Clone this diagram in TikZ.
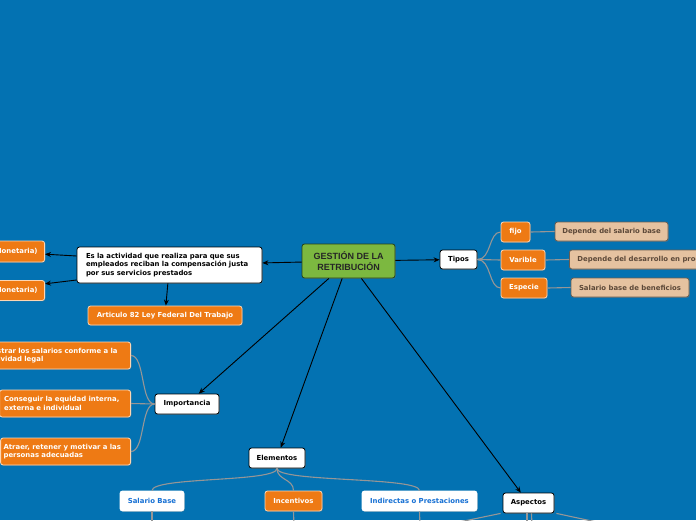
\documentclass[tikz,border=0pt]{standalone}
\usepackage{fontspec}
\setmainfont{DejaVu Sans}
\newfontfamily\titlefont{Liberation Sans}
\usetikzlibrary{arrows.meta,shadows}
\definecolor{mapblue}{RGB}{3,114,178}
\definecolor{leaforange}{RGB}{238,122,20}
\definecolor{leafedge}{RGB}{252,214,180}
\definecolor{notetan}{RGB}{229,194,160}
\definecolor{noteedge}{RGB}{105,92,80}
\definecolor{notetext}{RGB}{92,72,56}
\definecolor{centralgreen}{RGB}{124,184,64}
\definecolor{greenedge}{RGB}{40,64,22}
\definecolor{branchgray}{RGB}{150,150,150}
\definecolor{subtext}{RGB}{22,112,212}
\tikzset{
  box/.style={rounded corners=2.5pt, inner sep=0pt, line width=0.8pt,
    font=\bfseries\fontsize{6.9}{8.5}\selectfont, align=center,
    drop shadow={shadow xshift=0.8pt, shadow yshift=-0.8pt, opacity=0.35}},
  central/.style={box, draw=greenedge, fill=centralgreen, text=black!85,
    font=\titlefont\bfseries\fontsize{9}{10.5}\selectfont},
  topic/.style={box, draw=black, fill=white, text=black},
  leaf/.style={box, draw=leafedge, fill=leaforange, text=white},
  note/.style={box, draw=noteedge, fill=notetan, text=notetext},
  sub/.style={box, draw=white, fill=white, text=subtext},
  arrow/.style={-{Stealth[length=6pt,width=5pt]}, line width=0.9pt, black},
  branch/.style={draw=branchgray, line width=1.1pt},
}
\begin{document}
\begin{tikzpicture}[x=1pt,y=-1pt]
  \clip (0,0) rectangle (696,520);
  \fill[mapblue] (0,0) rectangle (696,520);
  % centre and definition
  \node[central, minimum width=93pt, minimum height=34pt] (gestion) at (348.5,261) {GESTIÓN DE LA\\RETRIBUCIÓN};
  \node[topic, minimum height=36pt, text width=167pt, inner xsep=9pt, align=left] (definicion) at (169.5,265)
    {Es la actividad que realiza para que sus\\empleados reciban la compensación justa\\por sus servicios prestados};
  \node[leaf, anchor=east, minimum height=21pt, inner xsep=7pt] (directa) at (45,251.5) {Directa (Monetaria)};
  \node[leaf, anchor=east, minimum height=20pt, inner xsep=7pt] (indirecta) at (45,290.5) {Indirecta (No Monetaria)};
  \node[leaf, minimum width=154pt, minimum height=19pt] (articulo) at (165,315.5) {Articulo 82 Ley Federal Del Trabajo};
  % tipos
  \node[topic, minimum width=37pt, minimum height=19pt] (tipos) at (458.5,259.5) {Tipos};
  \node[leaf, minimum width=29pt, minimum height=20pt] (fijo) at (515.5,232) {fijo};
  \node[leaf, minimum width=44pt, minimum height=20pt] (varible) at (523,260) {Varible};
  \node[leaf, minimum width=46pt, minimum height=20pt] (especie) at (524,288) {Especie};
  \node[note, minimum width=113pt, minimum height=19pt] (salariobase1) at (611.5,231.5) {Depende del salario base};
  \node[note, anchor=west, minimum height=19pt, inner xsep=8pt] (desarrollo) at (569,259.5) {Depende del desarrollo en productividad};
  \node[note, minimum width=118pt, minimum height=19pt] (beneficios) at (630,287.5) {Salario base de beneficios};
  % importancia
  \node[topic, minimum width=64pt, minimum height=20pt] (importancia) at (187,404) {Importancia};
  \node[leaf, anchor=east, minimum height=27pt, text width=156pt, inner xsep=4.5pt, align=left] (imp1) at (131,355.5)
    {Administrar los salarios conforme a la\\normatividad legal};
  \node[leaf, anchor=east, minimum height=27pt, text width=122pt, inner xsep=4.5pt, align=left] (imp2) at (131,403.5)
    {Conseguir la equidad interna,\\externa e individual};
  \node[leaf, anchor=east, minimum height=27pt, text width=124pt, inner xsep=3pt, align=left] (imp3) at (131,451.5)
    {Atraer, retener y motivar a las\\personas adecuadas};
  % elementos y aspectos
  \node[topic, minimum width=56pt, minimum height=20pt] (elementos) at (277,458) {Elementos};
  \node[sub, minimum width=64pt, minimum height=20pt] (salario) at (152,501) {Salario Base};
  \node[leaf, minimum width=57pt, minimum height=20pt] (incentivos) at (293.5,501) {Incentivos};
  \node[sub, minimum width=115pt, minimum height=20pt] (prestaciones) at (419.5,501) {Indirectas o Prestaciones};
  \node[topic, minimum width=51pt, minimum height=20pt] (aspectos) at (528.5,503) {Aspectos};
  \coordinate (salariodown) at (152,526);
  \coordinate (incentivosdown) at (294,526);
  \coordinate (prestacionesdown) at (420,526);
  \coordinate (aspleft) at (440,526);
  \coordinate (aspmid1) at (527,526);
  \coordinate (aspmid2) at (532,526);
  \coordinate (aspright) at (615,526);
  % arrows
  \draw[arrow] (gestion) -- (definicion);
  \draw[arrow] ([yshift=9pt]definicion.west) -- (directa);
  \draw[arrow] ([yshift=-15pt]definicion.west) -- (indirecta);
  \draw[arrow] (definicion) -- (articulo);
  \draw[arrow] (gestion) -- (tipos);
  \draw[arrow] (gestion) -- (importancia);
  \draw[arrow] (gestion) -- (elementos);
  \draw[arrow] (gestion) -- (aspectos);
  % branches
  \draw[branch] (tipos.east) .. controls +(14,0) and +(-12,0) .. (fijo.west);
  \draw[branch] (tipos.east) -- (varible.west);
  \draw[branch] (tipos.east) .. controls +(14,0) and +(-12,0) .. (especie.west);
  \draw[branch] (fijo.east) -- (salariobase1.west);
  \draw[branch] (varible.east) -- (desarrollo.west);
  \draw[branch] (especie.east) -- (beneficios.west);
  \draw[branch] (importancia.west) .. controls +(-14,0) and +(14,0) .. (imp1.east);
  \draw[branch] (importancia.west) -- (imp2.east);
  \draw[branch] (importancia.west) .. controls +(-14,0) and +(14,0) .. (imp3.east);
  \draw[branch] (elementos.south) .. controls +(0,14) and +(0,-14) .. (salario.north);
  \draw[branch] (elementos.south) .. controls +(0,12) and +(0,-12) .. (incentivos.north);
  \draw[branch] (elementos.south) .. controls +(0,14) and +(0,-14) .. (prestaciones.north);
  \draw[branch] (salario.south) -- (salariodown);
  \draw[branch] (incentivos.south) -- (incentivosdown);
  \draw[branch] (prestaciones.south) -- (prestacionesdown);
  \draw[branch] ([xshift=-2pt]aspectos.south west) -- (aspleft);
  \draw[branch] ([xshift=-1.5pt]aspectos.south) -- (aspmid1);
  \draw[branch] ([xshift=3pt]aspectos.south) -- (aspmid2);
  \draw[branch] ([xshift=2pt]aspectos.south east) -- (aspright);
\end{tikzpicture}
\end{document}
